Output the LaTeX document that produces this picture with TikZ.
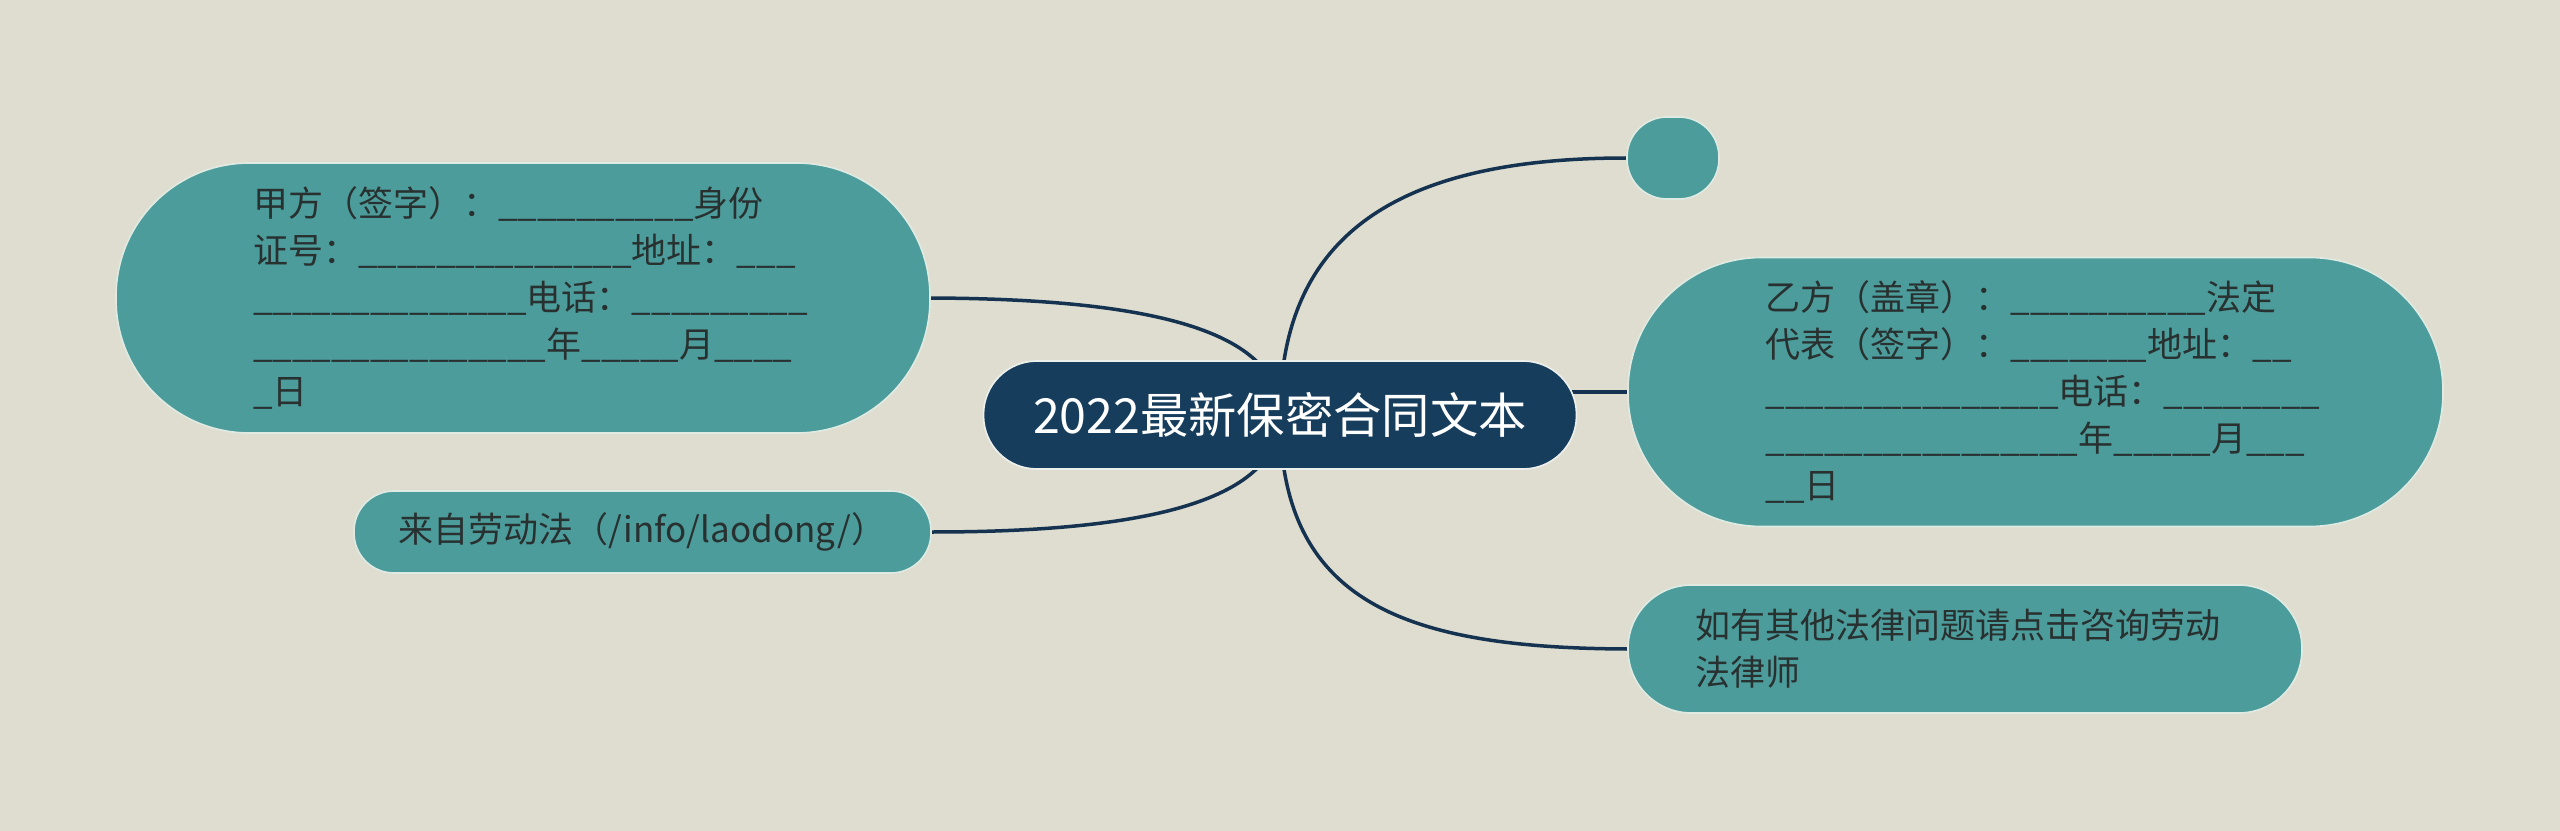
\documentclass[tikz,border=0pt]{standalone}
\usepackage{fontspec}
\newfontfamily\cjk{Noto Sans CJK SC}
\usetikzlibrary{backgrounds}

\newcount\blankcnt
\newcommand{\blanks}[1]{\blankcnt=0\relax\loop\textunderscore\advance\blankcnt by 1\relax\ifnum\blankcnt<#1\repeat}

\tikzset{every picture/.style={line width=0.75pt},
  rootbox/.style={rounded corners=16pt, fill={rgb, 255:red, 23; green, 61; blue, 92 }, draw={rgb, 255:red, 236; green, 240; blue, 236 }, line width=0.5pt, inner sep=0pt, minimum width=177.9pt, minimum height=32.4pt, text=white, font=\cjk\fontsize{14.5}{17}\selectfont},
  topicbox/.style={rounded corners=#1, fill={rgb, 255:red, 76; green, 156; blue, 155 }, draw={rgb, 255:red, 222; green, 234; blue, 226 }, line width=0.5pt, inner sep=0pt, text={rgb, 255:red, 40; green, 48; blue, 48 }, font=\cjk\fontsize{10.5}{14.1}\selectfont},
  branch/.style={color={rgb, 255:red, 21; green, 51; blue, 80 }, line width=1.05pt}
}

\begin{document}
\begin{tikzpicture}[x=0.3pt,y=0.3pt,yscale=-1]
\path [use as bounding box] (0,0) rectangle (2560,831);

% Text Node
\draw (1280,415) node [rootbox] (root) {2022最新保密合同文本};
% Text Node
\draw (523,298) node [topicbox=40pt, minimum width=244.2pt, minimum height=81pt, text width=162pt, align=left] (partyA) {甲方（签字）：\blanks{10}身份\\证号：\blanks{14}地址：\blanks{3}\\\blanks{14}电话：\blanks{9}\\\blanks{15}年\blanks{5}月\blanks{4}\\\blanks{1}日};
% Text Node
\draw (642.5,532) node [topicbox=12pt, minimum width=173.1pt, minimum height=24.6pt] (source) {来自劳动法（/info/laodong/）};
% Shape: empty topic
\draw (1673,158) node [topicbox=12pt, minimum width=27.6pt, minimum height=24.6pt] (blank) {};
% Text Node
\draw (2035.5,392) node [topicbox=40pt, minimum width=244.5pt, minimum height=80.7pt, text width=162pt, align=left] (partyB) {乙方（盖章）：\blanks{10}法定\\代表（签字）：\blanks{7}地址：\blanks{2}\\\blanks{15}电话：\blanks{8}\\\blanks{16}年\blanks{5}月\blanks{3}\\\blanks{2}日};
% Text Node
\draw (1965,649) node [topicbox=19pt, minimum width=202.2pt, minimum height=38.4pt, text width=162pt, align=left] (advice) {如有其他法律问题请点击咨询劳动\\法律师};

\begin{scope}[on background layer]
%Shape: background
\fill [color={rgb, 255:red, 222; green, 221; blue, 208 }] (0,0) rectangle (2560,831);
%Curve Lines
\draw [branch] (root.center) .. controls (1280,330) and (1150,299) .. (partyA.east);
%Curve Lines
\draw [branch] (root.center) .. controls (1280,500) and (1150,532) .. (source.east);
%Curve Lines
\draw [branch] (root.center) .. controls (1280,240) and (1390,158) .. (blank.west);
%Straight Lines
\draw [branch] (partyB.west -| root.center) -- (partyB.west);
%Curve Lines
\draw [branch] (root.center) .. controls (1280,600) and (1400,648) .. (advice.west);
\end{scope}

\end{tikzpicture}
\end{document}
